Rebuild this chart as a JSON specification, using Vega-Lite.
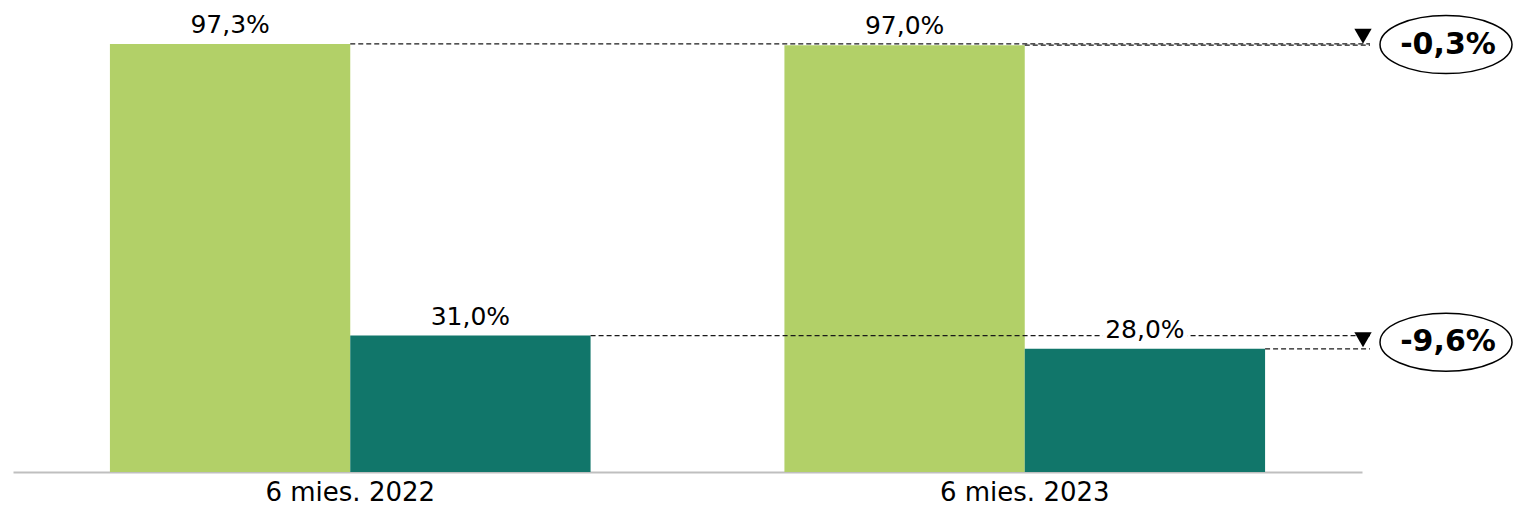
{
  "$schema": "https://vega.github.io/schema/vega-lite/v6.json",
  "width": 1349,
  "height": 462,
  "autosize": {"type": "none"},
  "padding": {"left": 13, "top": 10, "right": 152, "bottom": 39},
  "background": "white",
  "config": {"view": {"stroke": null}, "font": "DejaVu Sans"},
  "datasets": {
    "bars": [
      {"period": "6 mies. 2022", "series": "s1", "value": 97.3, "label": "97,3%"},
      {"period": "6 mies. 2022", "series": "s2", "value": 31.0, "label": "31,0%"},
      {"period": "6 mies. 2023", "series": "s1", "value": 97.0, "label": "97,0%"},
      {"period": "6 mies. 2023", "series": "s2", "value": 28.0, "label": "28,0%"}
    ],
    "changes": [
      {"series": "s1", "curr": 97.0, "mid": 97.15, "change": "-0,3%"},
      {"series": "s2", "curr": 28.0, "mid": 29.5, "change": "-9,6%"}
    ]
  },
  "data": {"name": "bars"},
  "layer": [
    {
      "mark": {"type": "bar"},
      "encoding": {
        "x": {
          "field": "period", "type": "nominal", "title": null,
          "scale": {"paddingInner": 0.2874, "paddingOuter": 0.1437},
          "axis": {
            "labelAngle": 0, "ticks": false, "domainColor": "#bfbfbf", "domainWidth": 2,
            "labelFont": "DejaVu Sans", "labelFontSize": 26, "labelColor": "#000000",
            "labelPadding": 7, "labelBaseline": "top"
          }
        },
        "xOffset": {"field": "series", "type": "nominal", "scale": {"paddingInner": 0, "paddingOuter": 0}},
        "y": {"field": "value", "type": "quantitative", "scale": {"domain": [0, 105], "nice": false, "zero": true}, "axis": null},
        "color": {"field": "series", "type": "nominal", "scale": {"domain": ["s1", "s2"], "range": ["#b2d068", "#11766a"]}, "legend": null}
      }
    },
    {
      "transform": [{"filter": "datum.series == 's1'"}],
      "mark": {"type": "rule", "stroke": "#1a1a1a", "strokeWidth": 1.2, "strokeDash": [5, 3], "x2Offset": 8},
      "encoding": {
        "x": {"field": "period", "type": "nominal", "bandPosition": 0.5},
        "x2": {"value": "width"},
        "y": {"field": "value", "type": "quantitative"}
      }
    },
    {
      "transform": [{"filter": "datum.series == 's2'"}],
      "mark": {"type": "rule", "stroke": "#1a1a1a", "strokeWidth": 1.2, "strokeDash": [5, 3], "x2Offset": 8},
      "encoding": {
        "x": {"field": "period", "type": "nominal", "bandPosition": 1},
        "x2": {"value": "width"},
        "y": {"field": "value", "type": "quantitative"}
      }
    },
    {
      "mark": {"type": "text", "font": "DejaVu Sans", "fontSize": 25, "baseline": "alphabetic", "dy": -11, "fill": "white", "stroke": "white", "strokeWidth": 10},
      "encoding": {
        "x": {"field": "period", "type": "nominal"},
        "xOffset": {"field": "series", "type": "nominal"},
        "y": {"field": "value", "type": "quantitative"},
        "text": {"field": "label"}
      }
    },
    {
      "mark": {"type": "text", "font": "DejaVu Sans", "fontSize": 25, "baseline": "alphabetic", "dy": -11, "fill": "black"},
      "encoding": {
        "x": {"field": "period", "type": "nominal"},
        "xOffset": {"field": "series", "type": "nominal"},
        "y": {"field": "value", "type": "quantitative"},
        "text": {"field": "label"}
      }
    },
    {
      "data": {"name": "changes"},
      "mark": {"type": "point", "shape": "triangle-down", "filled": true, "fill": "black", "stroke": null, "size": 300, "opacity": 1, "xOffset": 1, "yOffset": -9},
      "encoding": {
        "x": {"value": "width"},
        "y": {"field": "curr", "type": "quantitative"}
      }
    },
    {
      "data": {"name": "changes"},
      "mark": {"type": "point", "shape": "M -1 0 A 1 0.44 0 1 1 1 0 A 1 0.44 0 1 1 -1 0 Z", "filled": false, "fill": "white", "fillOpacity": 1, "stroke": "black", "strokeWidth": 1.5, "opacity": 1, "size": 17424, "xOffset": 84},
      "encoding": {
        "x": {"value": "width"},
        "y": {"field": "mid", "type": "quantitative"}
      }
    },
    {
      "data": {"name": "changes"},
      "mark": {"type": "text", "font": "DejaVu Sans", "fontWeight": "bold", "fontSize": 30, "baseline": "middle", "align": "center", "xOffset": 86, "fill": "black"},
      "encoding": {
        "x": {"value": "width"},
        "y": {"field": "mid", "type": "quantitative"},
        "text": {"field": "change"}
      }
    }
  ]
}
